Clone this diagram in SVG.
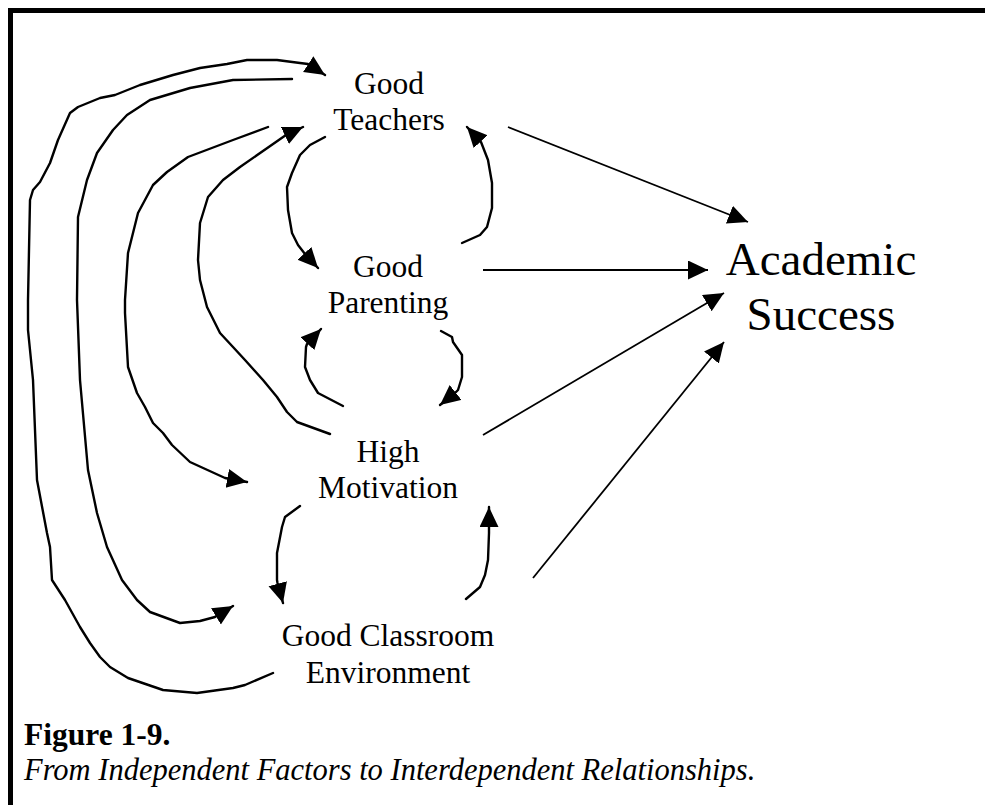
<svg xmlns="http://www.w3.org/2000/svg" width="985" height="805" viewBox="0 0 985 805">
<style>
text { font-family: "Liberation Serif", "Times New Roman", serif; fill: #000; }
.lbl { font-size: 31.5px; text-anchor: middle; }
.big { font-size: 47px; text-anchor: middle; }
.curve { fill: none; stroke: #000; stroke-width: 2.4; stroke-linejoin: round; stroke-linecap: round; marker-end: url(#ah); }
.straight { fill: none; stroke: #000; stroke-width: 1.8; marker-end: url(#ah); }
.frame { stroke: #000; stroke-width: 5; fill: none; }
</style>
<defs>
<marker id="ah" markerUnits="userSpaceOnUse" markerWidth="21" markerHeight="20" refX="20" refY="9.5" orient="auto" viewBox="0 0 21 20">
<path d="M0,0 L20,9.5 L0,19 z" fill="#000"/>
</marker>
</defs>
<rect width="985" height="805" fill="#fff"/>
<g id="frame">
<line class="frame" x1="8" y1="10.5" x2="985" y2="10.5"/>
<line class="frame" x1="10.5" y1="8" x2="10.5" y2="805"/>
</g>
<g id="connectors">
<path class="curve" d="M273,673 L245,685 L233,688 L197,693 L163,690 L128,678 L110,667 L100,657 L90,643 L80,627 L75,618 L65,600 L52,580 L50,547 L47,533 L37,480 L35,430 L33,380 L28,330 L28,300 L30,200 L33,190 L40,182 L50,163 L58,140 L70,113 L78,107 L100,98 L115,95 L140,85 L173,75 L200,68 L227,64 L247,60 L277,60 L300,63 L308,64 L325,75"/>
<path class="curve" d="M292,79 L233,80 L190,88 L150,100 L127,115 L113,130 L97,153 L87,180 L78,217 L77,300 L80,380 L88,470 L97,513 L107,547 L122,580 L137,600 L150,612 L180,623 L200,621 L215,617 L233,606"/>
<path class="curve" d="M268,127 L233,140 L188,157 L167,172 L153,185 L138,213 L128,253 L125,300 L125,313 L128,367 L137,393 L145,407 L153,423 L163,433 L172,445 L190,462 L225,478 L247,482"/>
<path class="curve" d="M330,434 L297,422 L287,412 L277,397 L263,380 L245,360 L233,347 L220,333 L207,307 L200,280 L198,260 L200,223 L208,197 L223,180 L240,167 L286,135 L303,127"/>
<path class="curve" d="M325,137 L310,145 L300,155 L292,173 L287,187 L288,210 L292,233 L298,245 L305,254 L318,268"/>
<path class="curve" d="M462,243 L480,235 L487,227 L492,208 L492,183 L488,160 L481,142 L467,127"/>
<path class="curve" d="M343,406 L318,393 L310,380 L305,367 L306,347 L307,344 L321,329"/>
<path class="curve" d="M441,331 L452,337 L453,342 L462,355 L462,377 L458,390 L455,393 L440,405"/>
<path class="curve" d="M300,506 L285,517 L282,527 L277,553 L277,580 L277.5,583 L283,603"/>
<path class="curve" d="M466,599 L480,587 L485,575 L488,560 L489,533 L489,528 L489,507"/>
<path class="straight" d="M508,127 L748,222"/>
<path class="straight" d="M483,270 L708,270"/>
<path class="straight" d="M483,435 L724,293"/>
<path class="straight" d="M533,578 L724,342"/>
</g>
<g id="good-teachers">
<text class="lbl" x="389" y="94">Good</text>
<text class="lbl" x="389" y="130">Teachers</text>
</g>
<g id="good-parenting">
<text class="lbl" x="388" y="277">Good</text>
<text class="lbl" x="388" y="313">Parenting</text>
</g>
<g id="high-motivation">
<text class="lbl" x="388" y="462">High</text>
<text class="lbl" x="388" y="498">Motivation</text>
</g>
<g id="good-classroom-environment">
<text class="lbl" x="388" y="646">Good Classroom</text>
<text class="lbl" x="388" y="683">Environment</text>
</g>
<g id="academic-success">
<text class="big" x="821" y="275">Academic</text>
<text class="big" x="821" y="330">Success</text>
</g>
<g id="caption">
<text x="24" y="745" style="font-size:31.5px;font-weight:bold">Figure 1-9.</text>
<text x="24" y="780" style="font-size:30.5px;font-style:italic">From Independent Factors to Interdependent Relationships.</text>
</g>
</svg>
